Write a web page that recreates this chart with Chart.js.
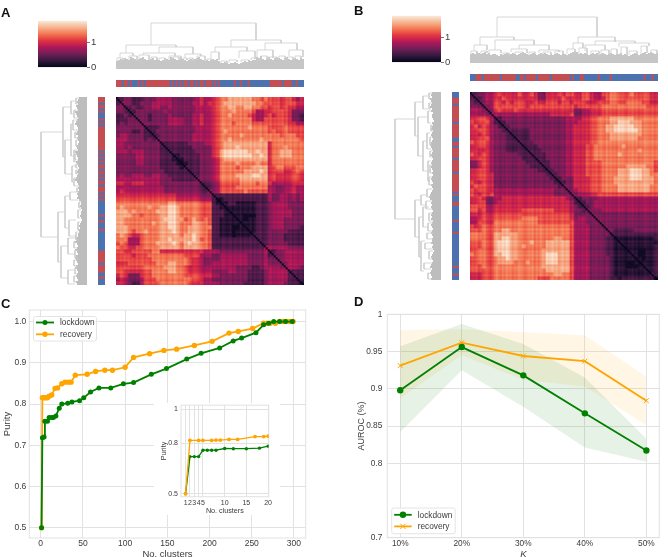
<!DOCTYPE html>
<html>
<head>
<meta charset="utf-8">
<title>Purity and AUROC</title>
<script src="https://cdn.jsdelivr.net/npm/chart.js@4"></script>
<style>
  html, body { margin: 0; padding: 0; background: #fff; }
  #lienzo { position: relative; width: 668px; height: 557px; overflow: hidden; filter: blur(0.35px); }
  #lienzo canvas { position: absolute; }
  .letra { position: absolute; font: bold 13px "Liberation Sans", sans-serif; color: #111; }
</style>
</head>
<body>
<div id="lienzo">
  <div class="letra" style="left:1px;top:5px">A</div>
  <div class="letra" style="left:354px;top:3px">B</div>
  <div class="letra" style="left:1px;top:296px">C</div>
  <div class="letra" style="left:354px;top:294px">D</div>
  <div style="position:absolute;left:154px;top:403px;width:126px;height:112px;background:#fff;z-index:1"></div>
</div>
<script>
// Datos: panel C
const clustersLockdown = [1, 2, 4, 5, 8, 10, 13, 15, 18, 22, 25, 32, 37, 46, 51, 59, 69, 83, 98, 110, 131, 149, 173, 190, 212, 228, 238, 255, 264, 270, 276, 283, 290, 298];
const purezaLockdown = [0.5, 0.718, 0.72, 0.758, 0.758, 0.767, 0.767, 0.767, 0.771, 0.79, 0.8, 0.802, 0.805, 0.808, 0.815, 0.829, 0.839, 0.839, 0.849, 0.852, 0.872, 0.886, 0.909, 0.923, 0.936, 0.953, 0.96, 0.973, 0.992, 0.996, 1.0, 1.0, 1.0, 1.0];
const clustersRecovery = [1, 2, 4, 6, 8, 10, 13, 17, 20, 25, 29, 33, 36, 41, 55, 65, 76, 85, 100, 110, 129, 146, 161, 182, 203, 223, 234, 251, 264, 268, 272, 278, 283, 287, 291, 295, 299];
const purezaRecovery = [0.5, 0.815, 0.815, 0.815, 0.815, 0.819, 0.822, 0.838, 0.839, 0.849, 0.853, 0.853, 0.853, 0.87, 0.872, 0.879, 0.882, 0.882, 0.889, 0.913, 0.922, 0.93, 0.933, 0.942, 0.952, 0.972, 0.976, 0.983, 0.996, 0.996, 0.996, 0.996, 1.0, 1.0, 1.0, 1.0, 1.0];
const ticksXC = [0, 50, 100, 150, 200, 250, 300];
const ticksYC = [0.5, 0.6, 0.7, 0.8, 0.9, 1.0];

// Datos: recuadro de C
const insetXLockdown = [1, 2, 3, 4, 5, 6, 7, 8, 10, 12, 15, 18, 20];
const insetYLockdown = [0.5, 0.72, 0.72, 0.72, 0.758, 0.758, 0.758, 0.758, 0.768, 0.767, 0.767, 0.77, 0.782];
const insetXRecovery = [1, 2, 4, 5, 7, 8, 9, 11, 13, 17, 19, 20];
const insetYRecovery = [0.5, 0.816, 0.816, 0.816, 0.816, 0.818, 0.818, 0.822, 0.822, 0.839, 0.839, 0.841];
const ticksXInset = [1, 2, 3, 4, 5, 10, 15, 20];
const ticksYInset = [0.5, 0.8, 1];

// Datos: panel D
const etiquetasK = ["10%", "20%", "30%", "40%", "50%"];
const aurocLockdown = [0.898, 0.956, 0.918, 0.867, 0.817];
const aurocLockdownAlto = [0.957, 0.987, 0.96, 0.915, 0.833];
const aurocLockdownBajo = [0.842, 0.925, 0.876, 0.821, 0.802];
const aurocRecovery = [0.931, 0.962, 0.944, 0.937, 0.884];
const aurocRecoveryAlto = [0.979, 0.98, 0.976, 0.972, 0.916];
const aurocRecoveryBajo = [0.887, 0.945, 0.912, 0.903, 0.851];
const ticksYD = [0.7, 0.8, 0.85, 0.9, 0.95, 1];

// Matriz de distancias (triangulo superior), cada digito es un nivel 0-9
const distanciasA = [
  "0233222 3334 4443333334 544 56 778888887767 666566545",
  "033223 3344 4443333344 545 56 788888888776 666566655",
  "32322 3344 3343333334 444 56 778877887766 566565544",
  "0233 3333 3433333334 444 56 777877776445 566665333",
  "033 3233 3343333344 544 56 778777765445 656665332",
  "23 3233 3344443344 544 56 777777775446 666665332",
  "0 3333 3344443344 544 56 777677776666 666665544",
  "0222 3333333334 444 56 777777787777 666676666",
  "023 3333333334 444 56 787777777777 676676666",
  "02 3333333344 444 56 777778777777 777677766",
  "0 3333333344 444 56 778777777787 777777776",
  "0222222333 344 56 788888888888 577777777",
  "022222233 333 56 788898888888 577787777",
  "02222223 333 56 899999988988 577888777",
  "0122222 333 56 899999998898 577888777",
  "012222 333 45 788888888888 577777777",
  "01222 333 45 777787777877 577777777",
  "0222 333 45 777767778888 567766677",
  "022 333 45 777777888898 566655676",
  "02 333 45 777788889988 565555665",
  "0 333 45 777778888888 565555665",
  "022 34 666667777677 544444555",
  "02 34 666677777777 443344544",
  "0 34 666666766666 443344544",
  "02 222222222222 433443434",
  "0 122222222222 433443434",
  "012211111222 344443333",
  "01111111222 344443333",
  "0111111222 344444333",
  "011000222 344444333",
  "01011222 344433333",
  "0111222 344433333",
  "011222 344433332",
  "01222 333332222",
  "0222 333322222",
  "022 333322222",
  "02 333332222",
  "0 444443333",
  "023344444",
  "03344444",
  "0344444",
  "034444",
  "04443",
  "0222",
  "022",
  "02",
  "0"
];
const distanciasB = [
  "023344 56555565565335556566 5566 54466 776667666655",
  "02344 55655555555335555655 5566 54456 776666666655",
  "0344 66565666556556665665 6665 55666 776677776655",
  "034 66666666566666666666 5666 66677 777777777666",
  "03 56555655555555555555 3344 55566 666666666666",
  "0 44444444444444555556 3344 55566 666666666666",
  "02333333333333333344 4455 66777 888888777777",
  "0233333333333333344 4555 66777 889998887777",
  "023333333333333344 5555 66778 899999887777",
  "02222233333333344 5555 66778 899999987777",
  "0222233333333344 5555 66777 888888887777",
  "022233333333344 5555 66777 888888877777",
  "02223333333344 5555 66777 777777777777",
  "0222333333344 5556 67777 777877777777",
  "022233333344 5556 67777 777777787777",
  "02223333344 5556 67777 778777777777",
  "0223333344 5556 67777 777777777777",
  "022333344 5556 66677 777777777776",
  "02333344 5556 66677 777788888776",
  "0233344 5556 66677 778889998876",
  "023344 5556 66677 778889998877",
  "02333 5555 66677 788889998887",
  "0233 5555 66677 788888888887",
  "033 5555 66677 778888888877",
  "03 4555 66677 778888888877",
  "0 3444 55666 666666666666",
  "0233 33444 444444444444",
  "023 34444 444444444444",
  "02 34444 444444444444",
  "0 33344 444444444444",
  "03333 333333333333",
  "0333 333333333333",
  "033 333333333333",
  "03 333333333333",
  "0 322222333333",
  "022222222222",
  "01111111112",
  "0111111111",
  "011111112",
  "01100112",
  "0100112",
  "010112",
  "01112",
  "0112",
  "012",
  "02",
  "0"
];

// Franjas finas de cada hoja (4 = sin desvio), se ven como rayas en el mapa
const franjasA = "4354645342 5346354253 4635424536 5342635246 5364254635 3426534625 4362543625 3462453624 3546254635 4253";
const franjasB = "3546243564 2536425364 5243654235 4625364253 4635246354 2653425364 2546354263 5342645325 4635243654 3524";

// Grupos de cada hoja: R rojo, B azul
const gruposA = "RRRBRRBRBB" + "BRBRBRRRRR" + "RRRRRRRBRB" + "RBRBRRBRRB" + "RBRRBRRRBR" + "BRBBBBBBBR" + "BBRBBBRBBB" + "BBBBBBBRRR" + "RRRBRRRRBB" + "RBBB";
const gruposB = "BBBRRRBRRR" + "RRRRRBRRRR" + "RRRBBRRBRR" + "RRRBRRRRRR" + "BRRRRRRRRR" + "BRBBBRRBBB" + "BBBBRBBBBB" + "RBBBBBBBBB" + "BBBBBBBRBB" + "BRBB";

// Dendrogramas: altura de cada hoja y uniones [hojaIzq, hojaDer, alturaIzq, alturaDer, alturaUnion]
const hojasA = [8, 9, 10, 9, 11, 10, 9, 12, 11, 10, 9, 10, 11, 12, 10, 9, 9, 10, 11, 9, 10, 9, 8, 9, 11, 10, 9, 12, 11, 10, 9, 9, 11, 10, 9, 8, 9, 10, 9, 10, 11, 12, 10, 9, 8, 9, 8, 9, 10, 9, 10, 8, 6, 6, 7, 6, 5, 6, 6, 7, 6, 5, 6, 7, 8, 7, 9, 8, 9, 9, 12, 11, 13, 10, 9, 10, 12, 10, 9, 11, 12, 11, 10, 9, 11, 12, 10, 9, 10, 11, 10, 9, 11, 10];
const unionesA = [
  [17, 69.5, 24, 29, 46], [4.5, 29.5, 16, 22, 24], [21, 38, 16, 15, 22], [1.5, 8, 11, 13, 16], [13, 29, 14, 13, 16],
  [34, 42, 11, 13, 15], [57, 82, 22, 26, 29], [49, 65, 17, 18, 22], [74, 90, 19, 19, 26], [0, 3, 8, 9, 11],
  [6, 10, 9, 8, 13], [11, 16, 9, 9, 14], [26, 32, 9, 10, 13], [33, 35, 8, 9, 11], [40, 44, 9, 8, 13],
  [47, 51, 10, 9, 17], [61, 69, 11, 10, 18], [70, 78, 12, 11, 19], [86, 93, 13, 12, 19], [17, 20, 9, 9, 12],
  [21, 24, 9, 8, 11], [28, 31, 9, 9, 12], [36, 38, 9, 8, 11], [45, 47, 8, 8, 10], [52, 55, 6, 6, 8],
  [56, 60, 6, 7, 9], [62, 66, 7, 7, 9], [67, 71, 9, 8, 11], [72, 75, 10, 10, 13], [76, 80, 9, 9, 12],
  [81, 84, 9, 9, 13], [85, 88, 10, 9, 12], [89, 92, 10, 10, 13]
];
const hojasB = [9, 10, 9, 11, 10, 9, 10, 11, 9, 10, 8, 9, 9, 8, 7, 9, 8, 9, 10, 8, 9, 10, 9, 8, 9, 10, 11, 10, 9, 8, 9, 10, 9, 8, 9, 10, 9, 10, 9, 8, 9, 8, 9, 10, 9, 8, 10, 9, 8, 9, 10, 11, 12, 11, 9, 10, 9, 10, 9, 8, 9, 10, 9, 10, 8, 9, 10, 9, 8, 9, 10, 9, 8, 9, 9, 10, 8, 9, 8, 7, 8, 9, 10, 9, 8, 9, 10, 11, 9, 10, 11, 10, 9, 10];
const unionesB = [
  [13, 63, 26, 26, 46], [4.5, 21.5, 18, 23, 26], [12, 31.5, 13, 18, 23], [24, 39, 14, 13, 18], [1.5, 8, 12, 13, 18],
  [51, 56, 14, 15, 20], [53.5, 72, 20, 21, 26], [62, 82, 18, 20, 22], [74, 89, 16, 17, 20], [57, 67, 12, 13, 18],
  [9, 15, 9, 10, 13], [20, 28, 11, 10, 14], [34, 44, 10, 11, 13], [0, 3, 9, 9, 12], [5, 8, 9, 10, 12],
  [16, 19, 8, 8, 10], [22, 26, 9, 9, 11], [29, 32, 8, 9, 11], [36, 40, 9, 8, 11], [42, 46, 9, 9, 12],
  [48, 52, 9, 10, 14], [54, 58, 9, 9, 15], [60, 64, 9, 8, 12], [65, 69, 8, 9, 13], [70, 73, 8, 8, 14],
  [75, 78, 9, 8, 16], [79, 83, 8, 9, 12], [85, 88, 9, 10, 17], [90, 93, 10, 9, 13]
];

// Mapa de color (rocket) y colores de grupo
const paradasRocket = ["#03051a", "#35193e", "#701f57", "#ad1759", "#e13342", "#f37651", "#f6b48f", "#faebdd"];
const coloresGrupo = { R: "#c44e52", B: "#4c72b0" };
const DIST_MAX = 1.88;
const GRIS = "#e2e2e2";
const TEXTO = "#3a3a3a";
const FUENTE = "'Liberation Sans', Arial, sans-serif";

Chart.defaults.font.family = FUENTE;
Chart.defaults.color = TEXTO;
Chart.defaults.animation = false;
Chart.defaults.responsive = false;
Chart.defaults.events = [];
Chart.defaults.plugins.legend.display = false;
Chart.defaults.plugins.tooltip.enabled = false;

const hexARgb = (hex) => [1, 3, 5].map((i) => parseInt(hex.slice(i, i + 2), 16));

const colorRocket = (t) => {
  const pos = Math.min(Math.max(t, 0), 1) * (paradasRocket.length - 1);
  const i = Math.min(Math.floor(pos), paradasRocket.length - 2);
  const a = hexARgb(paradasRocket[i]);
  const b = hexARgb(paradasRocket[i + 1]);
  const mezcla = a.map((c, k) => Math.round(c + (b[k] - c) * (pos - i)));
  return `rgb(${mezcla.join(",")})`;
};

// Crea un canvas en su sitio y le monta el grafico
const crearGrafico = (x, y, ancho, alto, config, capa) => {
  const canvas = document.createElement("canvas");
  canvas.width = ancho;
  canvas.height = alto;
  canvas.style.left = x + "px";
  canvas.style.top = y + "px";
  canvas.style.width = ancho + "px";
  canvas.style.height = alto + "px";
  if (capa) canvas.style.zIndex = capa;
  document.querySelector("#lienzo").appendChild(canvas);
  return new Chart(canvas.getContext("2d"), config);
};

// Marco del area de datos
const pluginMarco = {
  id: "marco",
  beforeDatasetsDraw(chart) {
    const { ctx, chartArea: a } = chart;
    ctx.save();
    ctx.strokeStyle = GRIS;
    ctx.lineWidth = 1;
    ctx.strokeRect(a.left, a.top, a.right - a.left, a.bottom - a.top);
    ctx.restore();
  },
};

// Leyenda con caja, linea y marcador
const pluginLeyenda = {
  id: "cajaLeyenda",
  afterDraw(chart, args, op) {
    const { ctx } = chart;
    ctx.save();
    ctx.fillStyle = "rgba(255,255,255,0.85)";
    ctx.strokeStyle = "#e4e4e4";
    ctx.lineWidth = 1;
    ctx.beginPath();
    ctx.roundRect(op.x, op.y, op.ancho, op.alto, 2);
    ctx.fill();
    ctx.stroke();
    ctx.font = `${op.fuente}px ${FUENTE}`;
    ctx.textBaseline = "middle";
    chart.data.datasets.filter((d) => d.enLeyenda).forEach((d, i) => {
      const y = op.y + op.primera + i * op.salto;
      const x1 = op.x + 2.5;
      const x2 = x1 + op.largo;
      ctx.strokeStyle = d.borderColor;
      ctx.fillStyle = d.borderColor;
      ctx.lineWidth = d.borderWidth;
      ctx.beginPath();
      ctx.moveTo(x1, y);
      ctx.lineTo(x2, y);
      ctx.stroke();
      const cx = (x1 + x2) / 2;
      if (d.pointStyle === "crossRot") {
        const r = d.pointRadius * 0.75;
        ctx.lineWidth = 1;
        ctx.beginPath();
        ctx.moveTo(cx - r, y - r);
        ctx.lineTo(cx + r, y + r);
        ctx.moveTo(cx - r, y + r);
        ctx.lineTo(cx + r, y - r);
        ctx.stroke();
      } else {
        ctx.beginPath();
        ctx.arc(cx, y, d.pointRadius, 0, Math.PI * 2);
        ctx.fill();
      }
      ctx.fillStyle = TEXTO;
      ctx.fillText(d.label, x2 + 6, y + 0.5);
    });
    ctx.restore();
  },
};

const serie = (xs, ys) => xs.map((x, i) => ({ x, y: ys[i] }));

const ejeFijo = (valores, opciones) => ({
  type: "linear",
  afterBuildTicks: (eje) => {
    eje.ticks = valores.map((value) => ({ value }));
  },
  border: { display: false },
  grid: { color: GRIS, lineWidth: 1, drawTicks: false },
  ...opciones,
});

// Pasa las filas (bloques de dos hojas) a una matriz por hoja, simetrica, con la diagonal fina
const matrizDesde = (filas, franjas) => {
  const limpias = filas.map((f) => f.replace(/ /g, ""));
  const rayas = franjas.replace(/ /g, "").split("").map((d) => (Number(d) - 4) * 0.18);
  const n = limpias.length;
  const bloque = (a, b) => {
    const i = Math.min(a, b);
    const j = Math.max(a, b);
    const f = limpias[i];
    if (i === j) return Number(f[1] === undefined ? 1 : f[1]);
    return Number(f[j - i] === undefined ? f[f.length - 1] : f[j - i]);
  };
  const hojas = n * 2;
  const m = [];
  for (let i = 0; i < hojas; i++) {
    const fila = [];
    for (let j = 0; j < hojas; j++) {
      const base = bloque(Math.floor(i / 2), Math.floor(j / 2));
      fila.push(i === j ? 0 : Math.max(base + (rayas[i] || 0) + (rayas[j] || 0), 0.4));
    }
    m.push(fila);
  }
  return m;
};

// Mapa de calor como barras apiladas de una unidad
const crearCalor = (x, y, filas, franjas) => {
  const m = matrizDesde(filas, franjas);
  const etiquetas = m.map((_, i) => i);
  const datasets = m.map((fila) => ({
    data: fila.map(() => 1),
    backgroundColor: fila.map((nivel) => colorRocket(nivel / 9.7)),
    borderWidth: 0,
    barPercentage: 1,
    categoryPercentage: 1,
  }));
  crearGrafico(x, y, 188, 188, {
    type: "bar",
    data: { labels: etiquetas, datasets },
    options: {
      scales: {
        x: { display: false, stacked: true },
        y: { display: false, stacked: true, reverse: true, min: 0, max: m.length },
      },
    },
  });
};

// Barra de color con su eje de distancias
const crearBarraColor = (x, y) => {
  crearGrafico(x, y, 70, 60, {
    type: "bar",
    data: {
      labels: [""],
      datasets: [{
        data: [DIST_MAX],
        barPercentage: 1,
        categoryPercentage: 1,
        backgroundColor: (ctx) => {
          const a = ctx.chart.chartArea;
          if (!a) return "#000";
          const g = ctx.chart.ctx.createLinearGradient(0, a.bottom, 0, a.top);
          paradasRocket.forEach((c, i) => g.addColorStop(i / (paradasRocket.length - 1), c));
          return g;
        },
      }],
    },
    options: {
      layout: { padding: { top: 6, bottom: 5, right: 0 } },
      scales: {
        x: { display: false },
        y: ejeFijo([0, 1], {
          position: "right",
          min: 0,
          max: DIST_MAX,
          afterFit: (eje) => { eje.width = 21; },
          grid: { drawOnChartArea: false, drawTicks: true, tickLength: 3, color: "#777" },
          ticks: { padding: 1, font: { size: 9.5 }, callback: (v) => String(v) },
        }),
      },
    },
  });
};

// Franja de grupos, horizontal o vertical
const crearFranja = (x, y, ancho, alto, grupos, vertical) => {
  const letras = grupos.split("");
  const ejeValor = { display: false, min: 0, max: 1 };
  const ejeHoja = { display: false };
  crearGrafico(x, y, ancho, alto, {
    type: "bar",
    data: {
      labels: letras.map((_, i) => i),
      datasets: [{
        data: letras.map(() => 1),
        backgroundColor: letras.map((l) => coloresGrupo[l]),
        borderWidth: 0,
        barPercentage: 1,
        categoryPercentage: 1,
      }],
    },
    options: {
      indexAxis: vertical ? "y" : "x",
      scales: vertical ? { y: ejeHoja, x: ejeValor } : { x: ejeHoja, y: ejeValor },
    },
  });
};

// Dendrograma: lineas con huecos para separar cada union
const crearDendrograma = (x, y, ancho, alto, hojas, uniones, vertical) => {
  const punto = vertical ? (hoja, h) => ({ x: h, y: hoja }) : (hoja, h) => ({ x: hoja, y: h });
  const hueco = { x: null, y: null };
  const tallos = [];
  hojas.forEach((h, i) => {
    tallos.push(punto(i + 0.5, 0), punto(i + 0.5, h), hueco);
  });
  const ramas = [];
  uniones.forEach(([a, b, ha, hb, tope]) => {
    ramas.push(punto(a + 0.5, ha), punto(a + 0.5, tope), punto(b + 0.5, tope), punto(b + 0.5, hb), hueco);
  });
  const ejeHoja = { display: false, type: "linear", min: 0, max: hojas.length, reverse: vertical };
  const ejeAlto = { display: false, type: "linear", min: 0, max: 47, reverse: vertical };
  crearGrafico(x, y, ancho, alto, {
    type: "scatter",
    data: {
      datasets: [
        { data: ramas, showLine: true, borderColor: "#cdcdcd", borderWidth: 0.8, pointRadius: 0, spanGaps: false },
        { data: tallos, showLine: true, borderColor: "#a8a8a8", borderWidth: 1.3, pointRadius: 0, spanGaps: false },
      ],
    },
    options: {
      scales: vertical ? { x: ejeAlto, y: ejeHoja } : { x: ejeHoja, y: ejeAlto },
    },
  });
};

// Paneles A y B
const crearPanelMapa = (calorX, calorY, barraX, barraY, distancias, franjas, hojas, uniones, grupos, franjaTopY, franjaIzqX, dendroIzqX, dendroTopY) => {
  crearBarraColor(barraX, barraY);
  crearDendrograma(calorX, dendroTopY, 188, 47, hojas, uniones, false);
  crearDendrograma(dendroIzqX, calorY, 47, 188, hojas, uniones, true);
  crearFranja(calorX, franjaTopY, 188, 7, grupos, false);
  crearFranja(franjaIzqX, calorY, 7, 188, grupos, true);
  crearCalor(calorX, calorY, distancias, franjas);
};

crearPanelMapa(116, 97, 38, 14, distanciasA, franjasA, hojasA, unionesA, gruposA, 80, 98, 40, 22);
crearPanelMapa(470, 92, 392, 9, distanciasB, franjasB, hojasB, unionesB, gruposB, 74, 452, 394, 16);

// Panel C
crearGrafico(0, 297, 310, 263, {
  type: "scatter",
  data: {
    datasets: [
      { label: "lockdown", enLeyenda: true, data: serie(clustersLockdown, purezaLockdown), showLine: true, borderColor: "green", backgroundColor: "green", borderWidth: 1.8, pointRadius: 2.5, pointBorderWidth: 0 },
      { label: "recovery", enLeyenda: true, data: serie(clustersRecovery, purezaRecovery), showLine: true, borderColor: "orange", backgroundColor: "orange", borderWidth: 1.8, pointRadius: 2.7, pointBorderWidth: 0 },
    ],
  },
  options: {
    layout: { padding: { top: 13, right: 4.3, left: 0, bottom: 0 } },
    scales: {
      x: ejeFijo(ticksXC, {
        min: -13.5,
        max: 313.9,
        afterFit: (eje) => { eje.height = 22; },
        ticks: { padding: 1, font: { size: 8.5 }, maxRotation: 0, autoSkip: false, callback: (v) => String(v) },
        title: { display: true, text: "No. clusters", font: { size: 9.5 }, padding: { top: 0, bottom: 0 } },
      }),
      y: ejeFijo(ticksYC, {
        min: 0.475,
        max: 1.028,
        afterFit: (eje) => { eje.width = 29.3; },
        ticks: { padding: 3, font: { size: 8.5 }, autoSkip: false, callback: (v) => v.toFixed(1) },
        title: { display: true, text: "Purity", font: { size: 9.5 }, padding: { top: 2, bottom: 0 } },
      }),
    },
    plugins: { cajaLeyenda: { x: 33.5, y: 19.5, ancho: 63, alto: 24.5, primera: 6, salto: 11.8, largo: 18, fuente: 8.3 } },
  },
  plugins: [pluginMarco, pluginLeyenda],
});

// Recuadro de C
crearGrafico(158, 398, 116, 117, {
  type: "scatter",
  data: {
    datasets: [
      { data: serie(insetXRecovery, insetYRecovery), showLine: true, borderColor: "orange", backgroundColor: "orange", borderWidth: 1.3, pointRadius: 1.9, pointBorderWidth: 0 },
      { data: serie(insetXLockdown, insetYLockdown), showLine: true, borderColor: "green", backgroundColor: "green", borderWidth: 1.3, pointRadius: 1.7, pointBorderWidth: 0 },
    ],
  },
  options: {
    layout: { padding: { top: 6.3, right: 4, left: 0, bottom: 0 } },
    scales: {
      x: ejeFijo(ticksXInset, {
        min: -0.06,
        max: 20.15,
        afterFit: (eje) => { eje.height = 18.3; },
        ticks: { padding: 2, font: { size: 7 }, maxRotation: 0, autoSkip: false, callback: (v) => String(v) },
        title: { display: true, text: "No. clusters", font: { size: 7.2 }, padding: { top: 0, bottom: 0 } },
      }),
      y: ejeFijo(ticksYInset, {
        min: 0.482,
        max: 1.025,
        afterFit: (eje) => { eje.width = 23; },
        ticks: { padding: 3, font: { size: 7 }, autoSkip: false, callback: (v) => String(v) },
        title: { display: true, text: "Purity", font: { size: 7.2 }, padding: { top: 2, bottom: 0 } },
      }),
    },
  },
  plugins: [pluginMarco],
}, 2);

// Panel D
const xK = etiquetasK.map((_, i) => i);
crearGrafico(340, 297, 328, 263, {
  type: "scatter",
  data: {
    datasets: [
      { label: "lockdown", enLeyenda: true, data: serie(xK, aurocLockdown), showLine: true, borderColor: "green", backgroundColor: "green", borderWidth: 1.8, pointRadius: 3.2, pointBorderWidth: 0 },
      { label: "recovery", enLeyenda: true, data: serie(xK, aurocRecovery), showLine: true, borderColor: "orange", backgroundColor: "orange", borderWidth: 1.8, pointStyle: "crossRot", pointRadius: 3.5, pointBorderColor: "orange", pointBorderWidth: 1 },
      { data: serie(xK, aurocLockdownAlto), showLine: true, borderWidth: 0, pointRadius: 0, fill: "+1", backgroundColor: "rgba(0,128,0,0.1)" },
      { data: serie(xK, aurocLockdownBajo), showLine: true, borderWidth: 0, pointRadius: 0 },
      { data: serie(xK, aurocRecoveryAlto), showLine: true, borderWidth: 0, pointRadius: 0, fill: "+1", backgroundColor: "rgba(255,165,0,0.1)" },
      { data: serie(xK, aurocRecoveryBajo), showLine: true, borderWidth: 0, pointRadius: 0 },
    ],
  },
  options: {
    layout: { padding: { top: 17.3, right: 8.7, left: 0, bottom: 0 } },
    scales: {
      x: ejeFijo(xK, {
        min: -0.21,
        max: 4.21,
        afterFit: (eje) => { eje.height = 22.3; },
        ticks: { padding: 1, font: { size: 8.3 }, maxRotation: 0, autoSkip: false, callback: (v) => etiquetasK[v] },
        title: { display: true, text: "K", font: { size: 9.5, style: "italic" }, padding: { top: 0, bottom: 0 } },
      }),
      y: ejeFijo(ticksYD, {
        min: 0.7,
        max: 1,
        afterFit: (eje) => { eje.width = 47.3; },
        ticks: { padding: 5, font: { size: 8.3 }, autoSkip: false, callback: (v) => String(v) },
        title: { display: true, text: "AUROC (%)", font: { size: 9 }, padding: { top: 16, bottom: 0 } },
      }),
    },
    plugins: { cajaLeyenda: { x: 51.7, y: 211, ancho: 63.5, alto: 25.7, primera: 6.8, salto: 11.6, largo: 17.5, fuente: 8.3 } },
  },
  plugins: [pluginMarco, pluginLeyenda],
});
</script>
</body>
</html>
